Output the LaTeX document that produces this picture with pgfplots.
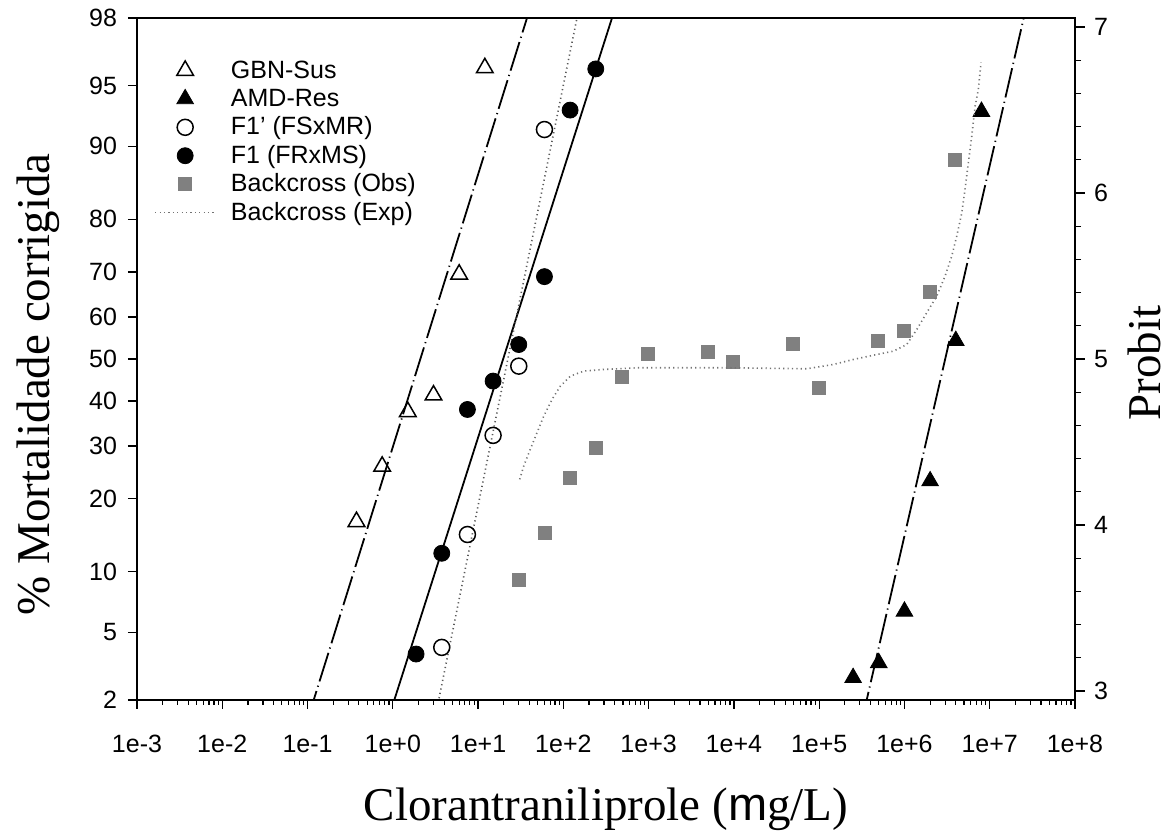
\documentclass[border=0pt]{standalone}
\usepackage{fontspec}
\setmainfont{Liberation Sans}
\newfontfamily\tnr{Liberation Serif}
\newfontfamily\arial{Liberation Sans}
\usepackage{pgfplots}
\pgfplotsset{compat=1.18}
\definecolor{obsgray}{RGB}{128,128,128}
\newcommand{\lfs}{\fontsize{12.5}{14}\selectfont}
\newcommand{\xl}[1]{{\lfs\rule{0pt}{18pt}#1}}
\newcommand{\yl}[1]{{\lfs #1\kern2pt}}
\newcommand{\yr}[1]{{\lfs\kern1pt #1}}
\begin{document}
\begin{tikzpicture}
\pgfplotsset{
  mylegimg/.style={legend image code/.code={\draw[##1] (0pt,0pt) -- (30pt,0pt);}},
  mylegmark/.style={legend image code/.code={\path[##1,/tikz/only marks] plot coordinates {(15pt,0pt)};}},
}
\begin{axis}[
  scale only axis, width=469pt, height=341pt,
  xmode=log, xmin=1e-3, xmax=1e8,
  ymin=2.9463, ymax=7.0537,
  xtick={1e-3,1e-2,1e-1,1,1e1,1e2,1e3,1e4,1e5,1e6,1e7,1e8},
  xticklabels={\xl{1e-3},\xl{1e-2},\xl{1e-1},\xl{1e+0},\xl{1e+1},\xl{1e+2},\xl{1e+3},\xl{1e+4},\xl{1e+5},\xl{1e+6},\xl{1e+7},\xl{1e+8}},
  minor xtick={2e-3,3e-3,4e-3,5e-3,6e-3,7e-3,8e-3,9e-3,
    2e-2,3e-2,4e-2,5e-2,6e-2,7e-2,8e-2,9e-2,
    2e-1,3e-1,4e-1,5e-1,6e-1,7e-1,8e-1,9e-1,
    2,3,4,5,6,7,8,9,
    2e1,3e1,4e1,5e1,6e1,7e1,8e1,9e1,
    2e2,3e2,4e2,5e2,6e2,7e2,8e2,9e2,
    2e3,3e3,4e3,5e3,6e3,7e3,8e3,9e3,
    2e4,3e4,4e4,5e4,6e4,7e4,8e4,9e4,
    2e5,3e5,4e5,5e5,6e5,7e5,8e5,9e5,
    2e6,3e6,4e6,5e6,6e6,7e6,8e6,9e6,
    2e7,3e7,4e7,5e7,6e7,7e7,8e7,9e7},
  ytick={2.9463,3.3551,3.7184,4.1584,4.4756,4.7467,5,5.2533,5.5244,5.8416,6.2816,6.6449,7.0537},
  yticklabels={\yl{2},\yl{5},\yl{10},\yl{20},\yl{30},\yl{40},\yl{50},\yl{60},\yl{70},\yl{80},\yl{90},\yl{95},\yl{98}},
  xtick pos=bottom, ytick pos=left,
  tick align=outside,
  major tick length=4.5pt, minor tick length=2.5pt,
  every tick/.style={black, line width=0.6pt},
  axis line style={line width=0.8pt},
  clip mode=individual,
  legend cell align=left,
  legend style={at={(axis description cs:0.0117,0.9507)}, anchor=north west,
    draw=none, fill=none, font=\lfs,
    row sep=-0.3pt,
    cells={font=\lfs, inner sep=0pt, text height=9pt, text depth=2.5pt},
    /tikz/every odd column/.append style={column sep=5.5pt}},
]
\coordinate (bbbl) at (axis description cs:-0.14606,-0.19355);
\coordinate (bbtr) at (axis description cs:1.10661,1.02639);

% regression lines
\addplot[forget plot, black, line width=0.9pt, dash pattern=on 15pt off 2.2pt on 0.6pt off 2.2pt]
  coordinates {(0.1,2.828) (50.12,7.261)};
\addplot[forget plot, black, line width=0.9pt, dash pattern=on 15pt off 2.2pt on 0.6pt off 2.2pt]
  coordinates {(3.162e5,2.819) (2.818e7,7.168)};
\addplot[forget plot, black, line width=0.9pt]
  coordinates {(0.7943,2.757) (501.2,7.262)};
\addplot[forget plot, black!65, line width=0.8pt, dash pattern=on 0.6pt off 1.6pt]
  coordinates {(2.818,2.723) (177.8,7.282)};

% data
\addplot[only marks, mark=triangle, mark size=4.8pt, mark options={draw=black, fill=white, line width=0.75pt}, mylegmark]
  coordinates {(0.375,4.02) (0.75,4.353) (1.5,4.682) (3,4.782) (6,5.510) (12,6.753)};
\addlegendentry{\lfs GBN-Sus}
\addplot[only marks, mark=triangle*, mark size=4.8pt, mark options={draw=black, fill=black}, mylegmark]
  coordinates {(2.5e5,3.08) (5e5,3.17) (1e6,3.48) (2e6,4.265) (4e6,5.11) (8e6,6.49)};
\addlegendentry{\lfs AMD-Res}
\addplot[only marks, mark=o, mark size=4pt, mark options={draw=black, fill=white, line width=0.75pt}, mylegmark]
  coordinates {(3.75,3.263) (7.5,3.943) (15,4.540) (30,4.957) (60,6.382)};
\addlegendentry{\lfs F1' (FSxMR)}
\addplot[only marks, mark=*, mark size=4pt, mark options={draw=black, fill=black}, mylegmark]
  coordinates {(1.875,3.223) (3.75,3.830) (7.5,4.696) (15,4.867) (30,5.087) (60,5.496) (120,6.499) (240,6.747)};
\addlegendentry{\lfs F1 (FRxMS)}
\addplot[only marks, mark=square*, mark size=3.25pt, mark options={draw=obsgray, fill=obsgray}, mylegmark]
  coordinates {(30,3.668) (60,3.955) (120,4.285) (240,4.466) (490,4.893) (970,5.031) (4900,5.043) (9800,4.983) (49000,5.091) (98000,4.827) (490000,5.111) (980000,5.171) (2e6,5.406) (3.9e6,6.198)};
\addlegendentry{\lfs Backcross (Obs)}
\addplot[black!55, line width=0.8pt, dash pattern=on 0.6pt off 1.6pt, mylegimg]
  coordinates {(30.76,4.275) (34.28,4.355) (40.93,4.456) (49.09,4.556) (58.88,4.656) (73.62,4.756) (92.04,4.836) (120.8,4.897) (173.4,4.927) (297.2,4.937) (731.1,4.947) (8995,4.947) (71450,4.941) (146600,4.967) (251200,4.997) (473200,5.027) (741300,5.047) (1.064e6,5.087) (1.393e6,5.177) (1.824e6,5.278) (2.388e6,5.378) (2.992e6,5.498) (3.581e6,5.618) (4.102e6,5.739) (4.699e6,5.879) (5.129e6,6.020) (5.610e6,6.180) (6.152e6,6.340) (6.730e6,6.521) (7.345e6,6.621) (7.907e6,6.785)};
\addlegendentry{\lfs Backcross (Exp)}

\node[rotate=90, anchor=base, font=\tnr\fontsize{23.5}{26}\selectfont] at (axis description cs:-0.0928,0.463) {\% Mortalidade corrigida};
\node[anchor=base, font=\tnr\fontsize{23.5}{26}\selectfont] at (axis description cs:0.5,-0.176) {Clorantraniliprole ({\arial m}g/L)};
\node[rotate=90, anchor=base, font=\tnr\fontsize{23.5}{26}\selectfont] at (axis description cs:1.0915,0.494) {Probit};
\end{axis}
\begin{axis}[
  scale only axis, width=469pt, height=341pt,
  xmode=log, xmin=1e-3, xmax=1e8,
  ymin=2.9463, ymax=7.0537,
  hide x axis, axis y line*=right,
  ytick={3,4,5,6,7}, yticklabels={\yr{3},\yr{4},\yr{5},\yr{6},\yr{7}},
  minor ytick={3.2,3.4,3.6,3.8,4.2,4.4,4.6,4.8,5.2,5.4,5.6,5.8,6.2,6.4,6.6,6.8},
  tick align=outside,
  major tick length=5pt, minor tick length=3pt,
  every tick/.style={black, line width=0.6pt},
  axis line style={line width=0.8pt},
]
\addplot[draw=none, forget plot] coordinates {(1,5)};
\end{axis}
\pgfresetboundingbox
\useasboundingbox (bbbl) rectangle (bbtr);
\end{tikzpicture}
\end{document}
